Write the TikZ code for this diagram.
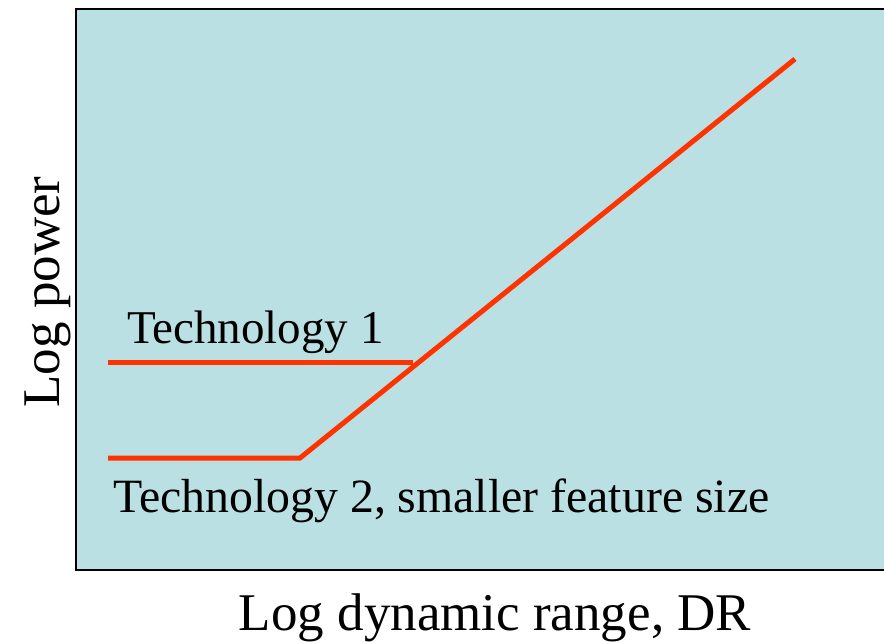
\documentclass[tikz,border=0pt]{standalone}
\usepackage{fontspec}
\setmainfont{Liberation Serif}
\definecolor{plotbg}{RGB}{187,224,227}
\definecolor{curvered}{RGB}{255,51,0}

\begin{document}
\begin{tikzpicture}[x=1pt, y=-1pt, line join=miter]
	
	% ================= 1. styles =================
	\tikzset{
		curve/.style={draw=curvered, line width=5pt, line cap=butt},
		bigtext/.style={inner sep=0pt, font=\fontsize{53}{60}\selectfont},
		techtext/.style={inner sep=0pt, font=\fontsize{47}{54}\selectfont}
	}
	\useasboundingbox (0,0) rectangle (884,641);
	
	% ================= 2. plot area =================
	\fill[plotbg] (76,9) rectangle (890,570);
	\draw[line width=2.5pt] (890,9) -- (76,9) -- (76,570) -- (890,570);
	
	% ================= 3. axis labels =================
	\node[bigtext, anchor=base] (xlab) at (495,630) {Log dynamic range, DR};
	\node[bigtext, anchor=base, rotate=90] (ylab) at (59,292) {Log power};
	
	% ================= 4. the two curves =================
	\coordinate (t1start) at (108,362);
	\coordinate (t1end) at (413,362);
	\coordinate (t2start) at (108,458);
	\coordinate (knee) at (300,458);
	\coordinate (top) at (795,59);
	
	\draw[curve] (t1start) -- (t1end);
	\draw[curve] (t2start) -- (knee) -- (top);
	
	% curve labels
	\node[techtext, anchor=base west] (tech1) at (127,343) {Technology 1};
	\node[techtext, font=\fontsize{47.8}{54}\selectfont, anchor=base west] (tech2) at (113,512) {Technology 2, smaller feature size};
	
\end{tikzpicture}
\end{document}
